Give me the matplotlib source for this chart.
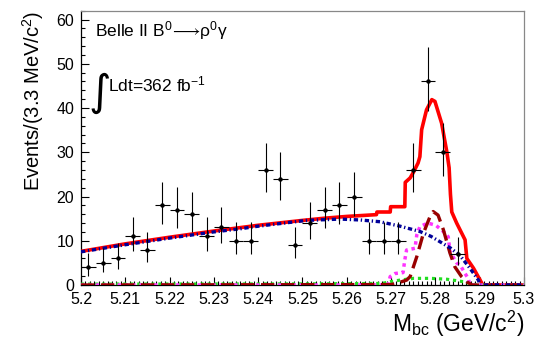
import numpy as np
import matplotlib
matplotlib.use('Agg')
import matplotlib.pyplot as plt
from matplotlib.ticker import FixedLocator, MultipleLocator

plt.rcParams['font.family'] = ['Liberation Sans', 'DejaVu Sans']
plt.rcParams['mathtext.fontset'] = 'custom'
plt.rcParams['mathtext.rm'] = 'Liberation Sans'
plt.rcParams['mathtext.it'] = 'Liberation Sans:italic'
plt.rcParams['mathtext.fallback'] = 'stixsans'

# data: events per 3.3 MeV bin, 5.20 - 5.30 GeV
bin_width = 0.1 / 30
counts = [4, 5, 6, 11, 8, 18, 17, 16, 11, 13, 10, 10, 26, 24, 9,
          14, 17, 18, 20, 10, 10, 10, 26, 46, 30, 7]
# poisson (garwood) errors
err_lo = [1.91, 2.15, 2.38, 3.26, 2.76, 4.20, 4.08, 3.95, 3.26, 3.55, 3.10, 3.10, 5.06, 4.86, 2.94,
          3.69, 4.08, 4.20, 4.43, 3.10, 3.10, 3.10, 5.06, 6.76, 5.44, 2.58]
err_hi = [3.18, 3.40, 3.60, 4.43, 3.96, 5.33, 5.21, 5.09, 4.43, 4.71, 4.28, 4.28, 6.17, 5.97, 4.12,
          4.84, 5.21, 5.33, 5.56, 4.28, 4.28, 4.28, 6.17, 7.84, 6.55, 3.78]

# fit components
tot_x = [5.2000, 5.2100, 5.2200, 5.2300, 5.2400, 5.2500, 5.2550, 5.2600, 5.2667, 5.2668,
         5.2698, 5.2699, 5.2731, 5.2732, 5.2743, 5.2750, 5.2761, 5.2765, 5.2769, 5.2780,
         5.2792, 5.2799, 5.2814, 5.2826, 5.2831, 5.2834, 5.2837, 5.2848, 5.2863, 5.2867,
         5.2871, 5.2886, 5.2901, 5.2907, 5.3000]
tot_y = [7.6, 9.3, 10.8, 12.2, 13.5, 14.6, 15.1, 15.5, 15.9, 16.5,
         16.5, 17.7, 17.7, 23.2, 24.2, 25.4, 27.6, 29.0, 35.1, 39.6,
         41.9, 41.5, 36.6, 30.0, 26.5, 20.5, 16.5, 14.0, 11.0, 10.2,
         6.0, 3.8, 1.1, 0.0, 0.0]

cont_x = [5.2000, 5.2100, 5.2200, 5.2300, 5.2359, 5.2393, 5.2434, 5.2509, 5.2585, 5.2630,
          5.2675, 5.2720, 5.2750, 5.2765, 5.2790, 5.2810, 5.2835, 5.2856, 5.2878, 5.2897,
          5.2901, 5.3000]
cont_y = [7.5, 9.1, 10.6, 12.0, 12.7, 13.2, 13.7, 14.6, 14.9, 14.7,
          14.3, 13.3, 12.5, 12.1, 11.0, 9.8, 8.3, 6.6, 3.8, 1.1,
          0.0, 0.0]

peak_x = [5.2000, 5.2693, 5.2698, 5.2709, 5.2727, 5.2731, 5.2735, 5.2754, 5.2758, 5.2765,
          5.2783, 5.2801, 5.2818, 5.2829, 5.2833, 5.2848, 5.2856, 5.2867, 5.2874, 5.2878,
          5.3000]
peak_y = [0.0, 0.0, 1.9, 2.6, 2.8, 5.7, 7.9, 8.3, 11.3, 13.2,
          14.0, 13.5, 12.1, 10.9, 7.5, 5.0, 4.5, 2.6, 1.5, 0.0,
          0.0]

sig_x = [5.2000, 5.2700, 5.2713, 5.2735, 5.2743, 5.2758, 5.2773, 5.2788, 5.2795, 5.2806,
         5.2818, 5.2833, 5.2844, 5.2859, 5.2871, 5.2883, 5.3000]
sig_y = [0.0, 0.1, 0.4, 1.1, 1.9, 6.4, 11.7, 15.5, 16.6, 15.8,
         12.5, 7.2, 4.1, 1.9, 0.7, 0.0, 0.0]

bb_x = [5.2000, 5.2500, 5.2680, 5.2698, 5.2720, 5.2750, 5.2790, 5.2826, 5.2863, 5.2893, 5.3000]
bb_y = [0.2, 0.25, 0.35, 0.75, 1.1, 1.5, 1.5, 1.3, 0.75, 0.0, 0.0]

x_ticks = [5.2, 5.21, 5.22, 5.23, 5.24, 5.25, 5.26, 5.27, 5.28, 5.29, 5.3]
x_labels = ['5.2', '5.21', '5.22', '5.23', '5.24', '5.25', '5.26', '5.27', '5.28', '5.29', '5.3']

centers = 5.2 + bin_width * (np.arange(len(counts)) + 0.5)

fig = plt.figure(figsize=(5.35, 3.39), dpi=100)
ax = fig.add_axes([0.1514, 0.1593, 0.8280, 0.8091])

ax.plot(tot_x, tot_y, color='#ff0000', lw=2.6, solid_joinstyle='round', zorder=3)
ax.plot(bb_x, bb_y, color='#22dd22', lw=2.3, ls=(0, (1, 1.2)), zorder=4)
ax.plot(peak_x, peak_y, color='#ff33ff', lw=2.5, ls=(0, (1, 1.1)), zorder=4)
ax.plot(sig_x, sig_y, color='#990000', lw=2.4, ls=(0, (4, 2)), zorder=4)
ax.plot(cont_x, cont_y, color='#000099', lw=2.4, ls=(0, (1.3, 0.8, 0.4, 0.8)), zorder=5)

ax.errorbar(centers, counts, xerr=bin_width / 2, yerr=[err_lo, err_hi],
            fmt='o', ms=2.2, color='black', ecolor='black', elinewidth=0.8,
            capsize=0, zorder=6)

ax.set_xlim(5.2, 5.3)
ax.set_ylim(0, 62)
ax.xaxis.set_major_locator(FixedLocator(x_ticks))
ax.set_xticklabels(x_labels)
ax.xaxis.set_minor_locator(MultipleLocator(0.001))
ax.yaxis.set_major_locator(MultipleLocator(10))
ax.yaxis.set_minor_locator(MultipleLocator(2))
ax.tick_params(which='both', direction='in', top=False, right=False, labelsize=11.5, width=0.8)
ax.tick_params(which='major', length=6, pad=5)
ax.tick_params(which='minor', length=3)

for s in ['top', 'right']:
    ax.spines[s].set_color('#888888')
for s in ax.spines.values():
    s.set_linewidth(0.9)

ax.set_xlabel(r'M$_{\rm bc}$ (GeV/c$^{2}$)', fontsize=16.5, loc='right', labelpad=1)
ax.set_ylabel(r'Events/(3.3 MeV/c$^{2}$)', fontsize=14.5, loc='top', labelpad=7)

ax.text(0.032, 0.905, r'Belle II B$^{0}\!\longrightarrow\!$ρ$^{0}$γ', transform=ax.transAxes, fontsize=12.5)
ax.text(0.016, 0.655, '∫', transform=ax.transAxes, fontsize=31, family='DejaVu Sans')
ax.text(0.062, 0.705, r'Ldt=362 fb$^{-1}$', transform=ax.transAxes, fontsize=12.5)

fig.savefig('out.png', dpi=100)
